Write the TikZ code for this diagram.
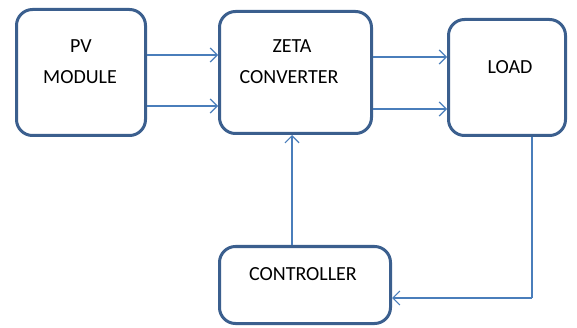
\documentclass[tikz,border=0pt]{standalone}
\usepackage{fontspec}
\setmainfont{Carlito}
\usetikzlibrary{arrows.meta}
\definecolor{boxblue}{HTML}{3B5F8E}
\definecolor{linkblue}{HTML}{4A7EBB}
\tikzset{
  blk/.style={draw=boxblue, line width=3pt, rounded corners=16pt, fill=white, inner sep=0pt},
  lbl/.style={font=\fontsize{20}{24}\selectfont, text=black, inner sep=0pt},
  link/.style={draw=linkblue, line width=1.2pt, -{Straight Barb[length=7pt,width=14pt,line width=1.2pt]}},
  plain/.style={draw=linkblue, line width=1.2pt}
}
\begin{document}
\begin{tikzpicture}[x=1pt,y=-1pt]
\useasboundingbox (0,0) rectangle (577,328);
\node[blk, minimum width=129pt, minimum height=126pt] (pv) at (81,72.5) {};
\node[blk, minimum width=152pt, minimum height=122pt] (zeta) at (295.5,72.5) {};
\node[blk, minimum width=117pt, minimum height=116pt] (load) at (507,77.5) {};
\node[blk, minimum width=171pt, minimum height=77pt] (ctrl) at (305,285) {};

\node[lbl] (pvt1) at (81,46) {PV};
\node[lbl] (pvt2) at (80,77) {MODULE};
\node[lbl] (zt1) at (292,46) {ZETA};
\node[lbl] (zt2) at (289,77) {CONVERTER};
\node[lbl] (lt) at (510,67) {LOAD};
\node[lbl] (ct) at (303,274) {CONTROLLER};

\coordinate (ya) at (0,55);
\coordinate (yb) at (0,106);
\coordinate (yc) at (0,57);
\coordinate (yd) at (0,109);
\coordinate (xv) at (292,0);
\coordinate (xf) at (532,0);
\coordinate (yf) at (0,298);
\coordinate (corner) at (532,298);

\draw[link] (pv.east |- ya) -- (zeta.west |- ya);
\draw[link] (pv.east |- yb) -- (zeta.west |- yb);
\draw[link] (zeta.east |- yc) -- (load.west |- yc);
\draw[link] (zeta.east |- yd) -- (load.west |- yd);
\draw[link] (ctrl.north -| xv) -- (zeta.south -| xv);
\draw[plain] (load.south -| xf) -- (corner);
\draw[link] (corner) -- (ctrl.east |- yf);
\end{tikzpicture}
\end{document}
